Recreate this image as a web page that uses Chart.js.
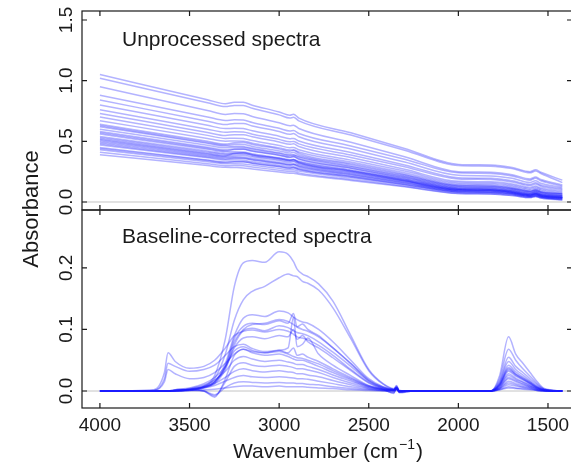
<!DOCTYPE html>
<html>
<head>
<meta charset="utf-8">
<script src="https://cdn.jsdelivr.net/npm/chart.js@4.4.1/dist/chart.umd.min.js"></script>
<style>
html, body { margin: 0; padding: 0; background: #fff; overflow: hidden; }
#wrap { position: relative; width: 575px; height: 467px; }
canvas { position: absolute; left: 0; top: 0; }
</style>
</head>
<body>
<div id="wrap">
<canvas id="bottomChart" width="575" height="467"></canvas>
<canvas id="topChart" width="575" height="467"></canvas>
</div>
<script>
// tick labels
var xTicks = [4000, 3500, 3000, 2500, 2000, 1500];
var topTicks = [0, 0.5, 1.0, 1.5];
var bottomTicks = [0, 0.1, 0.2];

// unprocessed spectra
var rawWavenumbers = [4000, 3400, 3300, 3250, 3200, 3150, 3000, 2940, 2920, 2890, 2600, 2300, 2000, 1820, 1700, 1600, 1570, 1540, 1420];
var rawSpectra = [
    [1.05, 0.843, 0.809, 0.821, 0.821, 0.798, 0.742, 0.715, 0.723, 0.691, 0.57, 0.441, 0.31, 0.305, 0.285, 0.25, 0.265, 0.245, 0.18],
    [1.02, 0.818, 0.786, 0.795, 0.795, 0.772, 0.718, 0.692, 0.698, 0.669, 0.552, 0.427, 0.30, 0.295, 0.275, 0.24, 0.255, 0.235, 0.16],
    [0.95, 0.754, 0.722, 0.729, 0.727, 0.705, 0.653, 0.628, 0.633, 0.606, 0.493, 0.373, 0.25, 0.245, 0.225, 0.19, 0.205, 0.185, 0.14],
    [0.88, 0.701, 0.672, 0.677, 0.675, 0.655, 0.607, 0.585, 0.589, 0.565, 0.462, 0.353, 0.24, 0.235, 0.215, 0.18, 0.195, 0.175, 0.13],
    [0.84, 0.666, 0.638, 0.647, 0.647, 0.627, 0.581, 0.558, 0.564, 0.538, 0.437, 0.329, 0.22, 0.215, 0.195, 0.16, 0.175, 0.155, 0.12],
    [0.80, 0.632, 0.605, 0.608, 0.605, 0.587, 0.542, 0.521, 0.524, 0.503, 0.407, 0.305, 0.20, 0.195, 0.175, 0.145, 0.158, 0.14, 0.11],
    [0.76, 0.60, 0.575, 0.578, 0.576, 0.559, 0.516, 0.496, 0.499, 0.479, 0.387, 0.29, 0.19, 0.185, 0.165, 0.135, 0.148, 0.13, 0.10],
    [0.73, 0.573, 0.548, 0.555, 0.555, 0.537, 0.495, 0.475, 0.479, 0.457, 0.366, 0.269, 0.17, 0.166, 0.148, 0.12, 0.132, 0.115, 0.09],
    [0.70, 0.549, 0.524, 0.526, 0.523, 0.507, 0.466, 0.448, 0.45, 0.431, 0.345, 0.255, 0.16, 0.156, 0.138, 0.11, 0.122, 0.105, 0.08],
    [0.67, 0.524, 0.501, 0.503, 0.501, 0.485, 0.446, 0.428, 0.43, 0.412, 0.329, 0.241, 0.15, 0.146, 0.128, 0.10, 0.112, 0.095, 0.07],
    [0.64, 0.50, 0.477, 0.489, 0.491, 0.474, 0.437, 0.418, 0.425, 0.401, 0.318, 0.229, 0.14, 0.136, 0.118, 0.09, 0.102, 0.085, 0.07],
    [0.63, 0.491, 0.469, 0.475, 0.474, 0.458, 0.421, 0.403, 0.408, 0.388, 0.308, 0.222, 0.135, 0.131, 0.114, 0.088, 0.099, 0.083, 0.065],
    [0.62, 0.483, 0.461, 0.46, 0.457, 0.442, 0.406, 0.389, 0.39, 0.375, 0.297, 0.215, 0.13, 0.126, 0.11, 0.085, 0.095, 0.08, 0.06],
    [0.60, 0.468, 0.447, 0.45, 0.449, 0.434, 0.399, 0.383, 0.385, 0.368, 0.29, 0.208, 0.125, 0.121, 0.105, 0.08, 0.09, 0.075, 0.055],
    [0.58, 0.451, 0.43, 0.437, 0.437, 0.422, 0.388, 0.371, 0.375, 0.356, 0.281, 0.201, 0.12, 0.116, 0.10, 0.075, 0.086, 0.07, 0.05],
    [0.57, 0.443, 0.422, 0.432, 0.434, 0.418, 0.384, 0.367, 0.373, 0.352, 0.277, 0.196, 0.115, 0.111, 0.095, 0.071, 0.082, 0.066, 0.05],
    [0.56, 0.434, 0.414, 0.414, 0.411, 0.398, 0.364, 0.349, 0.35, 0.336, 0.264, 0.188, 0.11, 0.106, 0.09, 0.068, 0.078, 0.063, 0.05],
    [0.54, 0.42, 0.40, 0.404, 0.404, 0.39, 0.358, 0.343, 0.346, 0.329, 0.26, 0.186, 0.11, 0.106, 0.09, 0.065, 0.075, 0.06, 0.04],
    [0.53, 0.411, 0.392, 0.396, 0.396, 0.382, 0.35, 0.335, 0.338, 0.322, 0.253, 0.18, 0.105, 0.101, 0.085, 0.062, 0.072, 0.057, 0.04],
    [0.52, 0.402, 0.383, 0.40, 0.406, 0.39, 0.359, 0.342, 0.351, 0.326, 0.254, 0.176, 0.10, 0.096, 0.08, 0.058, 0.068, 0.053, 0.04],
    [0.51, 0.395, 0.377, 0.384, 0.385, 0.372, 0.341, 0.326, 0.331, 0.313, 0.245, 0.173, 0.10, 0.096, 0.08, 0.058, 0.068, 0.053, 0.035],
    [0.50, 0.388, 0.37, 0.372, 0.37, 0.358, 0.328, 0.314, 0.316, 0.302, 0.238, 0.17, 0.10, 0.096, 0.08, 0.058, 0.068, 0.053, 0.04],
    [0.49, 0.379, 0.362, 0.364, 0.362, 0.35, 0.32, 0.306, 0.309, 0.295, 0.231, 0.164, 0.095, 0.091, 0.076, 0.054, 0.064, 0.05, 0.035],
    [0.48, 0.371, 0.353, 0.358, 0.359, 0.346, 0.317, 0.303, 0.306, 0.29, 0.227, 0.159, 0.09, 0.086, 0.072, 0.05, 0.06, 0.046, 0.03],
    [0.47, 0.364, 0.346, 0.346, 0.343, 0.332, 0.303, 0.291, 0.291, 0.279, 0.219, 0.157, 0.09, 0.086, 0.072, 0.05, 0.06, 0.046, 0.03],
    [0.45, 0.346, 0.33, 0.332, 0.331, 0.32, 0.292, 0.279, 0.281, 0.268, 0.208, 0.145, 0.08, 0.076, 0.063, 0.043, 0.052, 0.04, 0.03],
    [0.44, 0.341, 0.325, 0.331, 0.332, 0.32, 0.293, 0.28, 0.284, 0.269, 0.21, 0.148, 0.085, 0.081, 0.067, 0.047, 0.056, 0.043, 0.025],
    [0.43, 0.332, 0.316, 0.316, 0.314, 0.304, 0.277, 0.266, 0.266, 0.255, 0.20, 0.141, 0.08, 0.076, 0.063, 0.043, 0.052, 0.04, 0.02],
    [0.41, 0.315, 0.299, 0.30, 0.298, 0.288, 0.262, 0.251, 0.252, 0.24, 0.186, 0.13, 0.07, 0.066, 0.054, 0.036, 0.045, 0.033, 0.02],
    [0.39, 0.30, 0.286, 0.284, 0.281, 0.272, 0.248, 0.237, 0.237, 0.228, 0.178, 0.125, 0.07, 0.066, 0.054, 0.036, 0.045, 0.033, 0.015]
];

// baseline-corrected spectra
var correctedWavenumbers = [4000, 3700, 3640, 3620, 3580, 3500, 3420, 3360, 3300, 3250, 3200, 3150, 3080, 3000, 2950, 2920, 2900, 2870, 2840, 2780, 2700, 2600, 2500, 2420, 2360, 2345, 2330, 2250, 1820, 1770, 1720, 1680, 1640, 1600, 1560, 1520, 1420];
var correctedSpectra = [
    [0, 0, 0, 0, 0.001, 0.003, 0.008, 0.025, 0.085, 0.17, 0.208, 0.212, 0.209, 0.226, 0.222, 0.21, 0.198, 0.19, 0.186, 0.174, 0.146, 0.09, 0.035, 0.012, 0.004, 0.009, 0.001, 0, 0, 0.025, 0.088, 0.06, 0.045, 0.03, 0.015, 0.004, 0],
    [0, 0, 0, 0, 0.001, 0.003, 0.007, 0.02, 0.06, 0.115, 0.148, 0.162, 0.17, 0.184, 0.19, 0.187, 0.186, 0.178, 0.175, 0.164, 0.135, 0.085, 0.033, 0.011, 0.003, 0.008, 0.001, 0, 0, 0.02, 0.068, 0.05, 0.036, 0.024, 0.012, 0.003, 0],
    [0, 0, 0, 0, 0, 0.002, 0.006, 0.015, 0.045, 0.09, 0.118, 0.124, 0.121, 0.13, 0.127, 0.12, 0.116, 0.112, 0.11, 0.1, 0.08, 0.05, 0.02, 0.007, 0.003, 0.007, 0, 0, 0, 0.016, 0.055, 0.04, 0.03, 0.02, 0.01, 0.003, 0],
    [0, 0, 0, 0, 0, 0.002, 0.006, 0.014, 0.04, 0.085, 0.105, 0.11, 0.108, 0.114, 0.11, 0.126, 0.104, 0.109, 0.1, 0.09, 0.07, 0.045, 0.018, 0.006, 0.002, 0.006, 0, 0, 0, 0.014, 0.048, 0.035, 0.026, 0.017, 0.008, 0.002, 0],
    [0, 0, 0, 0, 0, 0.002, 0.006, 0.014, 0.04, 0.08, 0.1, 0.108, 0.11, 0.116, 0.113, 0.108, 0.104, 0.1, 0.097, 0.088, 0.07, 0.044, 0.017, 0.006, 0.002, 0.006, 0, 0, 0, 0.011, 0.038, 0.028, 0.021, 0.014, 0.006, 0.002, 0],
    [0, 0, 0, 0, 0, 0.001, 0.005, 0.012, 0.035, 0.075, 0.098, 0.102, 0.098, 0.106, 0.103, 0.098, 0.095, 0.093, 0.09, 0.08, 0.063, 0.04, 0.016, 0.005, 0.002, 0.005, 0, 0, 0, 0.012, 0.042, 0.031, 0.023, 0.015, 0.007, 0.002, 0],
    [0, 0.002, 0.03, 0.062, 0.048, 0.037, 0.04, 0.05, 0.07, 0.09, 0.097, 0.099, 0.096, 0.1, 0.097, 0.092, 0.088, 0.086, 0.083, 0.074, 0.058, 0.035, 0.014, 0.004, 0.002, 0.005, 0, 0, 0, 0.01, 0.036, 0.027, 0.02, 0.013, 0.006, 0.002, 0],
    [0, 0, 0, 0, 0.001, 0.003, 0.008, 0.016, 0.038, 0.07, 0.086, 0.088, 0.085, 0.09, 0.088, 0.1, 0.084, 0.09, 0.08, 0.07, 0.054, 0.033, 0.013, 0.004, 0.002, 0.005, 0, 0, 0, 0.01, 0.034, 0.026, 0.019, 0.012, 0.005, 0.001, 0],
    [0, 0.001, 0.02, 0.045, 0.04, 0.032, 0.035, 0.042, 0.058, 0.072, 0.076, 0.069, 0.064, 0.066, 0.062, 0.07, 0.058, 0.06, 0.055, 0.048, 0.036, 0.022, 0.008, 0.003, 0.001, 0.005, -0.002, 0, 0, 0.009, 0.032, 0.024, 0.018, 0.012, 0.005, 0.001, 0],
    [0, 0.001, 0.015, 0.035, 0.028, 0.02, 0.022, 0.03, 0.045, 0.06, 0.068, 0.062, 0.058, 0.06, 0.056, 0.052, 0.05, 0.05, 0.047, 0.04, 0.03, 0.018, 0.007, 0.002, 0.001, 0.004, -0.002, 0, 0, 0.008, 0.028, 0.021, 0.015, 0.01, 0.004, 0.001, 0],
    [0, 0, 0, 0, 0.002, 0.005, 0.012, 0.022, 0.04, 0.065, 0.072, 0.066, 0.062, 0.064, 0.06, 0.056, 0.054, 0.053, 0.05, 0.044, 0.033, 0.02, 0.008, 0.003, 0.001, 0.004, -0.001, 0, 0, 0.007, 0.025, 0.019, 0.014, 0.009, 0.004, 0.001, 0],
    [0, 0, 0, 0, 0.001, 0.002, 0, -0.01, 0.02, 0.058, 0.068, 0.064, 0.062, 0.066, 0.07, 0.12, 0.072, 0.076, 0.086, 0.06, 0.042, 0.025, 0.009, 0.003, -0.004, 0.006, -0.003, 0, 0, 0.006, 0.022, 0.017, 0.012, 0.008, 0.003, 0.001, 0],
    [0, 0, 0, 0, 0.002, 0.004, 0.01, 0.018, 0.032, 0.05, 0.056, 0.052, 0.048, 0.05, 0.047, 0.045, 0.043, 0.043, 0.04, 0.035, 0.026, 0.016, 0.006, 0.002, 0.001, 0.003, -0.001, 0, 0, 0.005, 0.02, 0.015, 0.011, 0.007, 0.003, 0.001, 0],
    [0, 0, 0, 0, 0.001, 0.002, 0, -0.008, 0.015, 0.04, 0.046, 0.042, 0.04, 0.042, 0.04, 0.038, 0.036, 0.036, 0.034, 0.03, 0.022, 0.013, 0.005, 0.002, -0.003, 0.005, -0.002, 0, 0, 0.004, 0.016, 0.012, 0.009, 0.006, 0.002, 0.001, 0],
    [0, 0, 0, 0, 0.001, 0.003, 0.007, 0.012, 0.022, 0.032, 0.036, 0.033, 0.031, 0.033, 0.031, 0.03, 0.028, 0.028, 0.026, 0.023, 0.017, 0.01, 0.004, 0.001, 0.001, 0.003, -0.001, 0, 0, 0.004, 0.013, 0.01, 0.007, 0.005, 0.002, 0, 0],
    [0, 0, 0, 0, 0.001, 0.002, 0.005, 0.009, 0.016, 0.022, 0.025, 0.023, 0.022, 0.023, 0.022, 0.021, 0.02, 0.02, 0.019, 0.016, 0.012, 0.007, 0.003, 0.001, 0, 0.002, 0, 0, 0, 0.003, 0.01, 0.008, 0.006, 0.004, 0.001, 0, 0],
    [0, 0, 0, 0, 0, 0.001, 0, -0.006, 0.006, 0.013, 0.015, 0.014, 0.013, 0.014, 0.013, 0.013, 0.012, 0.012, 0.011, 0.01, 0.007, 0.004, 0.002, 0.001, -0.002, 0.003, -0.001, 0, 0, 0.002, 0.007, 0.005, 0.004, 0.003, 0.001, 0, 0],
    [0, 0, 0, 0, 0, 0.001, 0.002, 0.003, 0.005, 0.007, 0.008, 0.008, 0.007, 0.008, 0.007, 0.007, 0.007, 0.007, 0.006, 0.005, 0.004, 0.002, 0.001, 0, 0, 0.002, 0, 0, 0, 0.002, 0.005, 0.004, 0.003, 0.002, 0.001, 0, 0]
];

var FONT = "'Liberation Sans', Arial, sans-serif";
var INK = '#1a1a1a';
var LINE = 'rgba(25,25,255,0.33)';

function toPoints(wn, vals) {
    return vals.map(function (v, i) { return { x: wn[i], y: v }; });
}

function makeDatasets(wn, spectra) {
    return spectra.map(function (s) {
        return {
            data: toPoints(wn, s),
            borderColor: LINE,
            borderWidth: 1.5,
            pointRadius: 0,
            fill: false,
            cubicInterpolationMode: 'monotone'
        };
    });
}

// box, inward ticks and all the lettering (R base-graphics look)
var panelFrame = {
    id: 'panelFrame',
    beforeDatasetsDraw: function (chart) {
        var ctx = chart.ctx, a = chart.chartArea;
        var y0 = chart.scales.y.getPixelForValue(0);
        ctx.save();
        ctx.strokeStyle = '#c4c4c4';
        ctx.lineWidth = 1;
        ctx.beginPath();
        ctx.moveTo(a.left, y0);
        ctx.lineTo(a.right, y0);
        ctx.stroke();
        ctx.restore();
    },
    afterDraw: function (chart, args, opts) {
        var ctx = chart.ctx, a = chart.chartArea;
        var xs = chart.scales.x, ys = chart.scales.y;
        ctx.save();
        ctx.strokeStyle = INK;
        ctx.lineWidth = 1.2;
        ctx.strokeRect(a.left, a.top, a.right - a.left, a.bottom - a.top);
        ctx.beginPath();
        xTicks.forEach(function (t) {
            var px = xs.getPixelForValue(t);
            ctx.moveTo(px, a.top); ctx.lineTo(px, a.top + 5);
            ctx.moveTo(px, a.bottom); ctx.lineTo(px, a.bottom - 5);
        });
        opts.yTicks.forEach(function (t) {
            var py = ys.getPixelForValue(t);
            ctx.moveTo(a.left, py); ctx.lineTo(a.left + 5, py);
            ctx.moveTo(a.right, py); ctx.lineTo(a.right - 5, py);
        });
        ctx.stroke();

        ctx.fillStyle = INK;
        ctx.font = '19px ' + FONT;
        ctx.textAlign = 'center';
        ctx.textBaseline = 'alphabetic';
        opts.yTicks.forEach(function (t) {
            ctx.save();
            ctx.translate(a.left - 10, ys.getPixelForValue(t));
            ctx.rotate(-Math.PI / 2);
            ctx.fillText(t.toFixed(1), 0, 0);
            ctx.restore();
        });

        ctx.font = '21px ' + FONT;
        ctx.textAlign = 'left';
        ctx.fillText(opts.label, 122, opts.labelY);

        if (opts.xAxis) {
            ctx.font = '19px ' + FONT;
            ctx.textAlign = 'center';
            ctx.textBaseline = 'middle';
            xTicks.forEach(function (t) {
                ctx.fillText(String(t), xs.getPixelForValue(t), a.bottom + 18);
            });

            // x title with superscript
            ctx.textBaseline = 'alphabetic';
            ctx.textAlign = 'left';
            var main = 'Wavenumber (cm', sup = '\u22121', close = ')';
            ctx.font = '21px ' + FONT;
            var w1 = ctx.measureText(main).width, w3 = ctx.measureText(close).width;
            ctx.font = '14px ' + FONT;
            var w2 = ctx.measureText(sup).width;
            var x0 = (a.left + a.right) / 2 - (w1 + w2 + w3) / 2;
            var by = 458;
            ctx.font = '21px ' + FONT;
            ctx.fillText(main, x0, by);
            ctx.font = '14px ' + FONT;
            ctx.fillText(sup, x0 + w1 + 1, by - 9);
            ctx.font = '21px ' + FONT;
            ctx.fillText(close, x0 + w1 + w2 + 2, by);

            // y title
            ctx.save();
            ctx.translate(38, 209);
            ctx.rotate(-Math.PI / 2);
            ctx.textAlign = 'center';
            ctx.font = '22px ' + FONT;
            ctx.fillText('Absorbance', 0, 0);
            ctx.restore();
        }
        ctx.restore();
    }
};

function panelOptions(yMin, yMax, padding, frameOpts) {
    return {
        responsive: false,
        animation: false,
        events: [],
        layout: { padding: padding },
        plugins: {
            legend: { display: false },
            tooltip: { enabled: false },
            panelFrame: frameOpts
        },
        scales: {
            x: { type: 'linear', reverse: true, min: 1366, max: 4100, display: false },
            y: { type: 'linear', min: yMin, max: yMax, display: false }
        }
    };
}

new Chart(document.getElementById('topChart'), {
    type: 'line',
    data: { datasets: makeDatasets(rawWavenumbers, rawSpectra) },
    options: panelOptions(-0.066, 1.574, { left: 82, top: 11, right: 3, bottom: 257 },
        { yTicks: topTicks, label: 'Unprocessed spectra', labelY: 46, xAxis: false }),
    plugins: [panelFrame]
});

new Chart(document.getElementById('bottomChart'), {
    type: 'line',
    data: { datasets: makeDatasets(correctedWavenumbers, correctedSpectra) },
    options: panelOptions(-0.0276, 0.294, { left: 82, top: 210, right: 3, bottom: 59 },
        { yTicks: bottomTicks, label: 'Baseline-corrected spectra', labelY: 243, xAxis: true }),
    plugins: [panelFrame]
});
</script>
</body>
</html>
